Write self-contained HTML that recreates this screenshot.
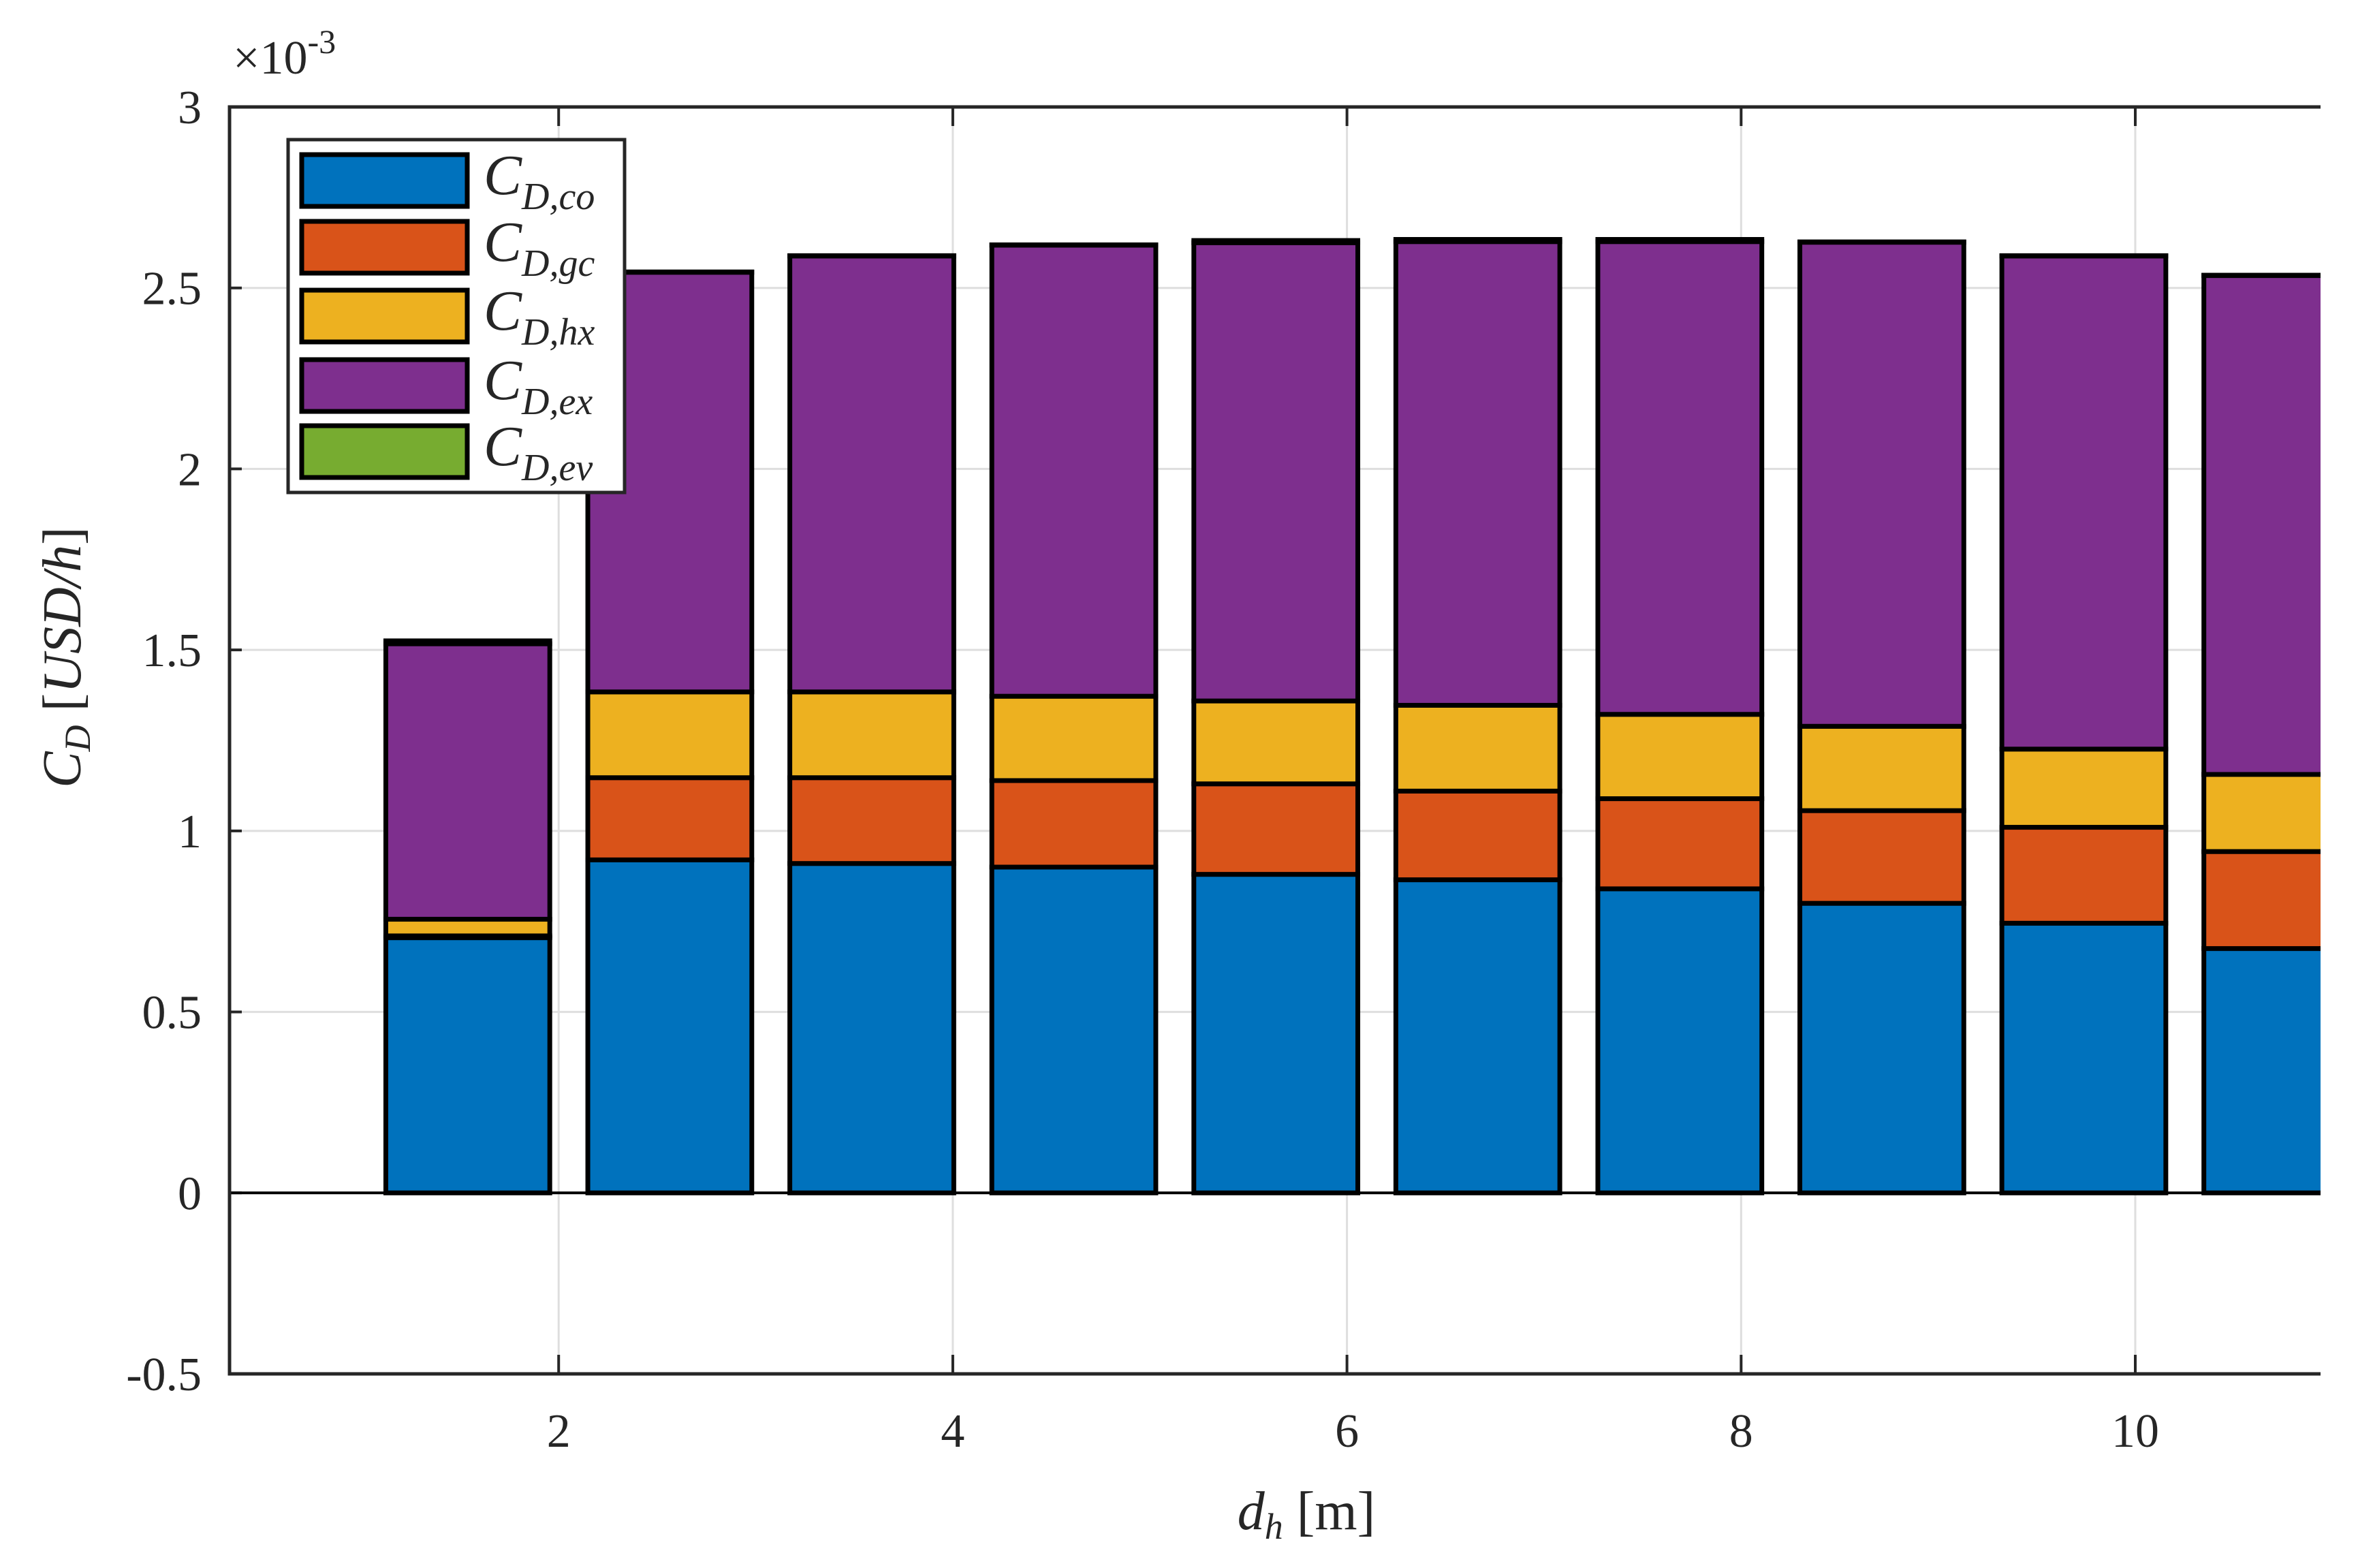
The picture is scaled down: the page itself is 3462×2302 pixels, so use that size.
<!DOCTYPE html>
<html><head><meta charset="utf-8"><style>
html,body{margin:0;padding:0;background:#fff}
svg{display:block;font-family:"Liberation Serif",serif}
</style></head><body>
<svg id="chart" width="3462" height="2302" viewBox="0 0 3462 2302" xmlns="http://www.w3.org/2000/svg">
<defs><clipPath id="plotclip"><rect x="330" y="150" width="3077" height="1880"/></clipPath></defs>
<rect width="3462" height="2302" fill="#fff"/>
<g id="grid"></g>
<g id="bars" clip-path="url(#plotclip)"></g>
<g id="axes"></g>
<g id="legend"></g>
</svg>
<script>
const xPositions = [1.539, 2.564, 3.589, 4.614, 5.639, 6.664, 7.689, 8.714, 9.739, 10.764];
const seriesNames = ["co", "gc", "hx", "ex", "ev"];
const coValues = [0.705, 0.92, 0.91, 0.90, 0.88, 0.865, 0.84, 0.80, 0.745, 0.675];
const gcValues = [0.005, 0.227, 0.237, 0.239, 0.25, 0.245, 0.249, 0.256, 0.265, 0.268];
const hxValues = [0.046, 0.237, 0.237, 0.233, 0.229, 0.237, 0.233, 0.233, 0.216, 0.213];
const exValues = [0.761, 1.16, 1.205, 1.247, 1.266, 1.281, 1.306, 1.338, 1.363, 1.379];
const evValues = [0.008, 0.0, 0.0, 0.0, 0.006, 0.006, 0.006, 0.0, 0.0, 0.0];
const yTicks = [-0.5, 0, 0.5, 1, 1.5, 2, 2.5, 3];
const yTickLabels = ["-0.5", "0", "0.5", "1", "1.5", "2", "2.5", "3"];
const xTicks = [2, 4, 6, 8, 10];
const xTickLabels = ["2", "4", "6", "8", "10"];

const colors = ["#0072BD", "#D95319", "#EDB120", "#7E2F8E", "#77AC30"];
const NS = "http://www.w3.org/2000/svg";
const L = 337, R = 3407, T = 157, B = 2017;
const xMin = 0.33, xMax = 10.94, yMin = -0.5, yMax = 3;
const X = v => L + (v - xMin) / (xMax - xMin) * (R - L);
const Y = v => B - (v - yMin) / (yMax - yMin) * (B - T);
const barW = 0.832;

function mk(tag, attrs, parent) {
  const e = document.createElementNS(NS, tag);
  for (const k in attrs) e.setAttribute(k, attrs[k]);
  parent.appendChild(e);
  return e;
}
const grid = document.getElementById("grid");
const bars = document.getElementById("bars");
const axes = document.getElementById("axes");
const legend = document.getElementById("legend");

yTicks.forEach((t, i) => {
  const g = mk("line", {x1: L, x2: R, y1: Y(t), y2: Y(t), stroke: "#dedede", "stroke-width": 3}, grid);
  
  
  const tk = mk("line", {x1: L, x2: L + 18, y1: Y(t), y2: Y(t), stroke: "#262626", "stroke-width": 4}, axes);
  
  
  const tx = mk("text", {x: 296, y: Y(t) + 24, "text-anchor": "end", "font-size": 70, fill: "#262626"}, axes);
  tx.textContent = yTickLabels[i];
  
  
});
xTicks.forEach((t, i) => {
  const g = mk("line", {x1: X(t), x2: X(t), y1: T, y2: B, stroke: "#dedede", "stroke-width": 3}, grid);
  
  
  const tk = mk("line", {x1: X(t), x2: X(t), y1: B, y2: B - 28, stroke: "#262626", "stroke-width": 4}, axes);
  
  
  const tk2 = mk("line", {x1: X(t), x2: X(t), y1: T, y2: T + 28, stroke: "#262626", "stroke-width": 4}, axes);
  
  
  const tx = mk("text", {x: X(t), y: 2124, "text-anchor": "middle", "font-size": 70, fill: "#262626"}, axes);
  tx.textContent = xTickLabels[i];
  
  
});

const series = [coValues, gcValues, hxValues, exValues, evValues];
xPositions.forEach((xv, i) => {
  let base = 0;
  series.forEach((vals, s) => {
    const v = vals[i];
    const y0 = Y(base), y1 = Y(base + v);
    const r = mk("rect", {x: X(xv - barW / 2), y: Math.min(y0, y1), width: X(xv + barW / 2) - X(xv - barW / 2),
      height: Math.max(Math.abs(y1 - y0), 0.5), fill: colors[s], stroke: "#000", "stroke-width": 7}, bars);
    
    
    base += v;
  });
});

const zl = mk("line", {x1: L, x2: R, y1: Y(0), y2: Y(0), stroke: "#000", "stroke-width": 4}, axes);


const ax = mk("path", {d: `M${R},${T} L${L},${T} L${L},${B} L${R},${B}`, fill: "none", stroke: "#262626", "stroke-width": 5}, axes);



const lb = mk("rect", {x: 423, y: 205, width: 494, height: 518, fill: "#fff", stroke: "#262626", "stroke-width": 5}, legend);


const rowsY = [265, 363, 464, 566, 663];
seriesNames.forEach((n, s) => {
  const sw = mk("rect", {x: 443, y: rowsY[s] - 38, width: 243, height: 76, fill: colors[s], stroke: "#000", "stroke-width": 7}, legend);
  
  
  const t = mk("text", {x: 710, y: rowsY[s] + 20, "font-size": 84, "font-style": "italic", fill: "#262626"}, legend);
  t.innerHTML = 'C<tspan font-size="56" dy="22">D,' + n + '</tspan>';
  
  
});
</script>
<svg style="position:absolute;left:0;top:0" width="3462" height="2302">
<text x="342" y="108" font-family="Liberation Serif, serif" font-size="70" fill="#262626">×10<tspan font-size="50" dy="-30">-3</tspan></text>
<text x="1918" y="2245" text-anchor="middle" font-family="Liberation Serif, serif" font-size="80" fill="#262626"><tspan font-style="italic">d</tspan><tspan font-style="italic" font-size="54" dy="14">h</tspan><tspan dy="-14"> [m]</tspan></text>
<text transform="translate(118,965) rotate(-90)" text-anchor="middle" font-family="Liberation Serif, serif" font-size="80" fill="#262626" font-style="italic">C<tspan font-size="54" dy="14">D</tspan><tspan dy="-14" font-style="normal"> [</tspan>USD/h<tspan font-style="normal">]</tspan></text>
</svg>
</body></html>
